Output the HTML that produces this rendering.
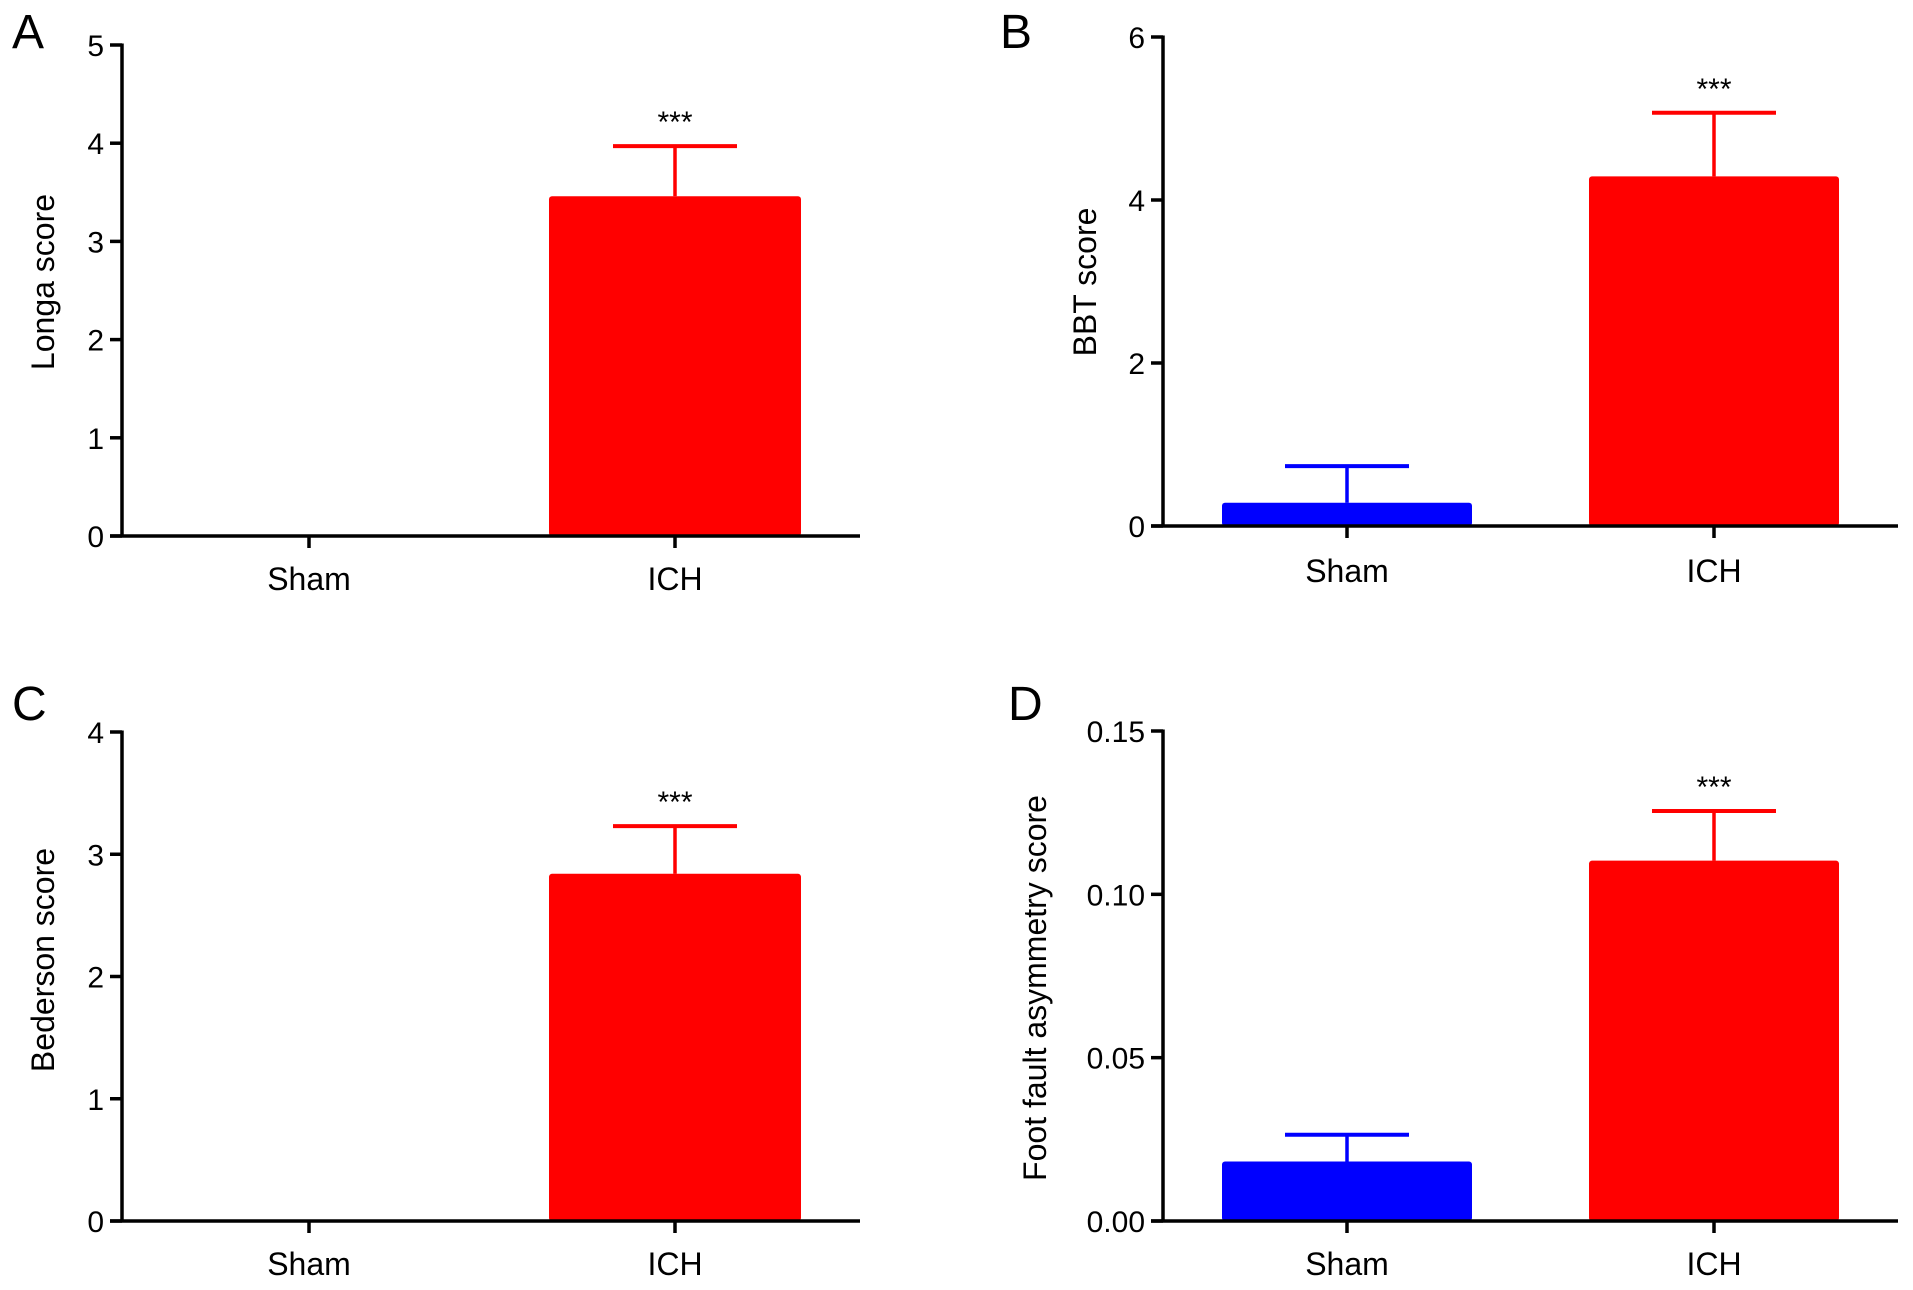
<!DOCTYPE html>
<html><head><meta charset="utf-8"><style>
html,body{margin:0;padding:0;background:#fff;}
svg{display:block;font-family:"Liberation Sans",Arial,sans-serif;}
</style></head><body>
<svg id="fig" width="1913" height="1290" viewBox="0 0 1913 1290" xmlns="http://www.w3.org/2000/svg"></svg>
<script>
const categories = ["Sham", "ICH"];
const valuesA = [0, 3.46];
const errorsA = [0, 0.51];
const valuesB = [0.285, 4.29];
const errorsB = [0.45, 0.78];
const valuesC = [0, 2.84];
const errorsC = [0, 0.39];
const valuesD = [0.0182, 0.1103];
const errorsD = [0.0082, 0.0152];
const ticksA = [0, 1, 2, 3, 4, 5];
const ticksB = [0, 2, 4, 6];
const ticksC = [0, 1, 2, 3, 4];
const ticksD = ["0.00", "0.05", "0.10", "0.15"];
const sigLabels = ["", "***"];
const colors = ["#0000ff", "#ff0000"];

const NS = "http://www.w3.org/2000/svg";
const svg = document.getElementById("fig");
function mk(tag, attrs, parent) {
  const e = document.createElementNS(NS, tag);
  for (const k in attrs) e.setAttribute(k, attrs[k]);
  (parent || svg).appendChild(e);
  return e;
}

function panel(cfg) {
  const g = mk("g", {});
  
  
  const tickVals = cfg.ticks.map(Number);
  const yMax = tickVals[tickVals.length - 1];
  const y = v => cfg.y0 - (v / yMax) * (cfg.y0 - cfg.yTop);
  const xs = cfg.catX;

  const letter = mk("text", {x: cfg.letterX, y: cfg.letterY, "font-size": 48, fill: "#000"}, g);
  letter.textContent = cfg.id;
  
  

  categories.forEach((c, i) => {
    const v = cfg.values[i], e = cfg.errors[i];
    if (v > 0) {
      const r = mk("rect", {x: xs[i] - cfg.bw / 2, y: y(v), width: cfg.bw, height: cfg.y0 - y(v), fill: colors[i], rx: 3}, g);
      
      
    }
    if (e > 0) {
      const l = mk("line", {x1: xs[i], x2: xs[i], y1: y(v), y2: y(v + e), stroke: colors[i], "stroke-width": 3.5}, g);
      
      
      const cap = mk("line", {x1: xs[i] - 62, x2: xs[i] + 62, y1: y(v + e), y2: y(v + e), stroke: colors[i], "stroke-width": 4}, g);
      
      
    }
    if (sigLabels[i]) {
      const s = mk("text", {x: xs[i], y: y(v + e) - 14, "font-size": 30, "text-anchor": "middle", fill: "#000"}, g);
      s.textContent = sigLabels[i];
      
      
    }
    const tk = mk("line", {x1: xs[i], x2: xs[i], y1: cfg.y0, y2: cfg.y0 + 12, stroke: "#000", "stroke-width": 3.5}, g);
    
    
    const lb = mk("text", {x: xs[i], y: cfg.y0 + cfg.labOff, "font-size": 32, "text-anchor": "middle", fill: "#000"}, g);
    lb.textContent = c;
    
    
  });

  const ya = mk("line", {x1: cfg.ax, x2: cfg.ax, y1: cfg.yTop - 1.5, y2: cfg.y0 + 1.5, stroke: "#000", "stroke-width": 3.5}, g);
  
  
  const xa = mk("line", {x1: cfg.ax - 12, x2: cfg.axEnd, y1: cfg.y0, y2: cfg.y0, stroke: "#000", "stroke-width": 3.5}, g);
  
  
  cfg.ticks.forEach(t => {
    const yy = y(Number(t));
    const l = mk("line", {x1: cfg.ax - 12, x2: cfg.ax, y1: yy, y2: yy, stroke: "#000", "stroke-width": 3.5}, g);
    
    
    const tx = mk("text", {x: cfg.ax - 18, y: yy + 11, "font-size": 30, "text-anchor": "end", fill: "#000"}, g);
    tx.textContent = t;
    
    
  });
  const tt = mk("text", {x: 0, y: 0, "font-size": 32, "text-anchor": "middle", fill: "#000",
    transform: "translate(" + cfg.titleX + "," + cfg.titleY + ") rotate(-90)"}, g);
  tt.textContent = cfg.title;
  
  
}

panel({id: "A", values: valuesA, errors: errorsA, ticks: ticksA, title: "Longa score",
  ax: 122, axEnd: 860, yTop: 45, y0: 536, catX: [309, 675], bw: 252, labOff: 54,
  letterX: 12, letterY: 48, titleX: 54, titleY: 282});
panel({id: "B", values: valuesB, errors: errorsB, ticks: ticksB, title: "BBT score",
  ax: 1163, axEnd: 1898, yTop: 37, y0: 526, catX: [1347, 1714], bw: 250, labOff: 56,
  letterX: 1000, letterY: 48, titleX: 1096, titleY: 282});
panel({id: "C", values: valuesC, errors: errorsC, ticks: ticksC, title: "Bederson score",
  ax: 122, axEnd: 860, yTop: 732, y0: 1221, catX: [309, 675], bw: 252, labOff: 54,
  letterX: 12, letterY: 720, titleX: 54, titleY: 960});
panel({id: "D", values: valuesD, errors: errorsD, ticks: ticksD, title: "Foot fault asymmetry score",
  ax: 1163, axEnd: 1898, yTop: 731, y0: 1221, catX: [1347, 1714], bw: 250, labOff: 54,
  letterX: 1008, letterY: 720, titleX: 1046, titleY: 988});
</script>
</body></html>
